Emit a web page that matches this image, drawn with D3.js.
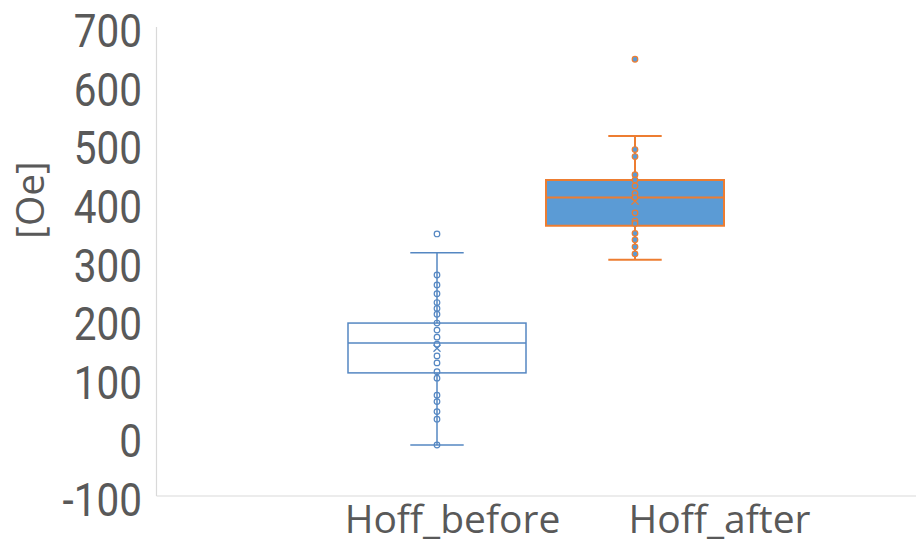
<!DOCTYPE html>
<html>
<head>
<meta charset="utf-8">
<script src="https://cdn.jsdelivr.net/npm/d3@7"></script>
<style>
  html, body { margin: 0; padding: 0; background: #fff; }
  svg { display: block; font-family: "Open Sans", "Noto Sans", sans-serif; }
</style>
</head>
<body>
<svg id="chart" width="916" height="545"></svg>
<script>
// Coercivity before / after treatment, in oersted
const categories = ["Hoff_before", "Hoff_after"];

// individual measurements drawn as markers
const pointsBefore = [347, 277, 260, 245, 230, 220, 210, 195, 183, 171, 159, 139, 127, 112, 101, 72, 61, 44, 31, -13];
const pointsAfter = [645, 491, 479, 448, 439, 429, 416, 409, 383, 369, 365, 348, 337, 325, 313];

// box statistics per category: [whisker low, Q1, median, Q3, whisker high, mean]
const statsBefore = [-13, 110, 161, 195, 315, 152];
const statsAfter = [303, 361, 409, 439, 514, 403];

const yTicks = [-100, 0, 100, 200, 300, 400, 500, 600, 700];
const yTitle = "[Oe]";

const series = [
  { name: categories[0], points: pointsBefore, stats: statsBefore,
    stroke: "#5587c2", fill: "none", markFill: "#fff", markStroke: "#5587c2", strokeWidth: 1.5 },
  { name: categories[1], points: pointsAfter, stats: statsAfter,
    stroke: "#ed7d31", fill: "#5b9bd5", markFill: "#5b9bd5", markStroke: "#ed7d31", strokeWidth: 2 }
];

const svg = d3.select("#chart");
const textColor = "#595959";
const axisColor = "#d9d9d9";

const plot = { left: 156.5, right: 916, top: 27, bottom: 496 };

const y = d3.scaleLinear().domain([-100, 700]).range([plot.bottom, plot.top]);

// box placement
const x = d3.scaleBand().domain(categories).range([338, 734])
  .paddingInner(0.101).paddingOuter(0.0505);

// category label placement
const xLabel = d3.scalePoint().domain(categories).range([452, 719]);

// axis lines
svg.append("line")
  .attr("x1", plot.left).attr("x2", plot.left)
  .attr("y1", plot.top).attr("y2", plot.bottom)
  .attr("stroke", axisColor).attr("stroke-width", 1.2);
svg.append("line")
  .attr("x1", plot.left).attr("x2", plot.right)
  .attr("y1", plot.bottom).attr("y2", plot.bottom)
  .attr("stroke", axisColor).attr("stroke-width", 1.2);

// y axis tick labels (tall, narrow digits)
const sx = 0.88;
const yAxis = svg.append("g")
  .attr("transform", "translate(142,0)")
  .call(d3.axisLeft(y).tickValues(yTicks).tickSize(0).tickPadding(0).tickFormat(d => String(d)));
yAxis.select(".domain").remove();
yAxis.selectAll("text")
  .attr("x", 0)
  .attr("dy", "0.36em")
  .attr("transform", `translate(0,3) scale(${sx},1)`)
  .attr("fill", textColor)
  .style("font-size", "46px")
  .style("font-family", "Roboto, 'Open Sans', sans-serif");

// y axis title
svg.append("text")
  .attr("transform", "translate(44,200) rotate(-90)")
  .attr("text-anchor", "middle")
  .attr("fill", textColor)
  .style("font-size", "39px")
  .text(yTitle);

// category labels
const xAxis = svg.append("g")
  .attr("transform", "translate(0,533)")
  .call(d3.axisBottom(xLabel).tickSize(0).tickPadding(0));
xAxis.select(".domain").remove();
xAxis.selectAll("text")
  .attr("y", 0).attr("dy", 0)
  .attr("fill", textColor)
  .style("font-size", "39px")
  .style("font-family", "'Open Sans', sans-serif");

// boxes
series.forEach(s => {
  const [wLo, q1, med, q3, wHi, mean] = s.stats;
  const bx = x(s.name);
  const bw = x.bandwidth();
  const cx = bx + bw / 2;
  const capW = bw * 0.3;
  const g = svg.append("g");

  // whiskers
  g.append("line").attr("x1", cx).attr("x2", cx).attr("y1", y(q3)).attr("y2", y(wHi))
    .attr("stroke", s.stroke).attr("stroke-width", s.strokeWidth);
  g.append("line").attr("x1", cx).attr("x2", cx).attr("y1", y(q1)).attr("y2", y(wLo))
    .attr("stroke", s.stroke).attr("stroke-width", s.strokeWidth);
  [wLo, wHi].forEach(v => {
    g.append("line").attr("x1", cx - capW / 2).attr("x2", cx + capW / 2)
      .attr("y1", y(v)).attr("y2", y(v))
      .attr("stroke", s.stroke).attr("stroke-width", s.strokeWidth);
  });

  // box and median
  g.append("rect")
    .attr("x", bx).attr("y", y(q3))
    .attr("width", bw).attr("height", y(q1) - y(q3))
    .attr("fill", s.fill)
    .attr("stroke", s.stroke).attr("stroke-width", s.strokeWidth);
  g.append("line").attr("x1", bx).attr("x2", bx + bw)
    .attr("y1", y(med)).attr("y2", y(med))
    .attr("stroke", s.stroke).attr("stroke-width", s.strokeWidth);

  // data points
  g.selectAll("circle").data(s.points).join("circle")
    .attr("cx", cx).attr("cy", d => y(d)).attr("r", 2.8)
    .attr("fill", s.markFill).attr("fill-opacity", s.fill === "none" ? 0 : 1)
    .attr("stroke", s.markStroke).attr("stroke-width", 1.2);

  // mean marker
  const m = 3.5;
  g.append("path")
    .attr("d", `M${cx - m},${y(mean) - m}L${cx + m},${y(mean) + m}M${cx - m},${y(mean) + m}L${cx + m},${y(mean) - m}`)
    .attr("stroke", s.markStroke).attr("stroke-width", 1.3);
});
</script>
</body>
</html>
